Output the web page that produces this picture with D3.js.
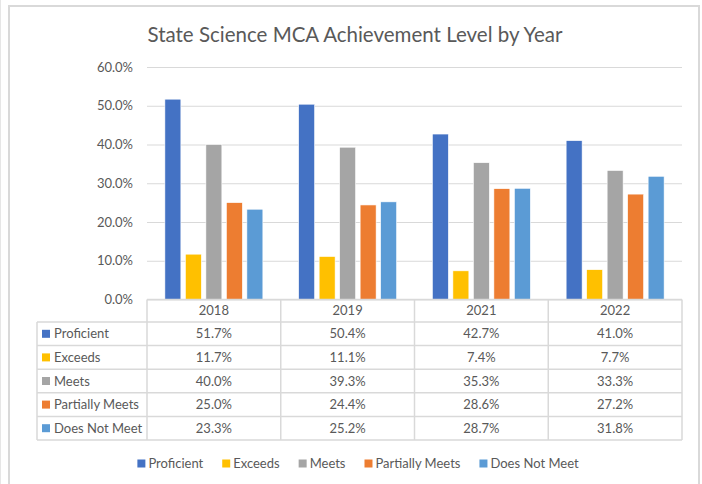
<!DOCTYPE html>
<html>
<head>
<meta charset="utf-8">
<title>State Science MCA Achievement Level by Year</title>
<script src="https://cdn.jsdelivr.net/npm/d3@7"></script>
<style>
body { margin: 0; background: #fff; }
svg text { font-family: Lato, "Open Sans", sans-serif; fill: #595959; }
</style>
</head>
<body>
<svg id="chart" width="702" height="484"></svg>
<script>
var years = ["2018", "2019", "2021", "2022"];
var levels = ["Proficient", "Exceeds", "Meets", "Partially Meets", "Does Not Meet"];
var colors = ["#4472C4", "#FFC000", "#A5A5A5", "#ED7D31", "#5B9BD5"];
// one array per level, values in percent, by year
var proficient = [51.7, 50.4, 42.7, 41.0];
var exceeds = [11.7, 11.1, 7.4, 7.7];
var meets = [40.0, 39.3, 35.3, 33.3];
var partiallyMeets = [25.0, 24.4, 28.6, 27.2];
var doesNotMeet = [23.3, 25.2, 28.7, 31.8];
var yTicks = [0, 10, 20, 30, 40, 50, 60];

var series = [proficient, exceeds, meets, partiallyMeets, doesNotMeet];

var svg = d3.select("#chart");
var grid = "#D9D9D9";

/* outer chart frame */
svg.append("line").attr("x1", 0.5).attr("x2", 0.5).attr("y1", 0).attr("y2", 484)
  .attr("stroke", "#E6E6E6").attr("stroke-width", 1);
svg.append("path").attr("d", "M9,484V6H699V484")
  .attr("fill", "none").attr("stroke", grid).attr("stroke-width", 2);

svg.append("text").attr("x", 355).attr("y", 42).attr("text-anchor", "middle")
  .style("font-size", "20.5px").text("State Science MCA Achievement Level by Year");

var plotLeft = 147, plotRight = 682, plotTop = 67, plotBottom = 299.5;
var x0 = d3.scaleBand().domain(years).range([plotLeft, plotRight]);
var x1 = d3.scaleBand().domain(levels).range([-51.25, 51.25]).paddingInner(0.22).paddingOuter(0.11);
var y = d3.scaleLinear().domain([0, 60]).range([plotBottom, plotTop]);

var yAxis = svg.append("g").attr("transform", "translate(" + plotLeft + ",0)")
  .call(d3.axisLeft(y).tickValues(yTicks).tickSize(-(plotRight - plotLeft)).tickPadding(14)
    .tickFormat(function(d) { return d.toFixed(1) + "%"; }));
yAxis.select(".domain").remove();
yAxis.selectAll("line").attr("stroke", grid).attr("stroke-width", 1.2);
yAxis.selectAll("text").style("font-size", "13px").attr("fill", "#595959").style("font-family", null);

/* bars */
var groups = svg.append("g").selectAll("g").data(years).join("g")
  .attr("transform", function(d) { return "translate(" + (x0(d) + x0.bandwidth() / 2) + ",0)"; });
groups.selectAll("rect")
  .data(function(d, i) { return levels.map(function(l, j) { return {level: l, value: series[j][i], color: colors[j]}; }); })
  .join("rect")
  .attr("x", function(d) { return x1(d.level); })
  .attr("width", x1.bandwidth())
  .attr("y", function(d) { return y(d.value); })
  .attr("height", function(d) { return plotBottom - y(d.value); })
  .attr("fill", function(d) { return d.color; })
  .attr("stroke", "#fff").attr("stroke-width", 0.6);

/* data table */
var headerH = 22.5, rowH = 23.6, labelLeft = 37;
var rowY = function(i) { return plotBottom + headerH + i * rowH; };
var tbl = svg.append("g").attr("stroke", grid).attr("stroke-width", 1.5);
tbl.append("line").attr("x1", plotLeft).attr("x2", plotRight).attr("y1", plotBottom).attr("y2", plotBottom);
d3.range(levels.length + 1).forEach(function(i) {
  tbl.append("line").attr("x1", labelLeft).attr("x2", plotRight).attr("y1", rowY(i)).attr("y2", rowY(i));
});
tbl.append("line").attr("x1", labelLeft).attr("x2", labelLeft).attr("y1", rowY(0)).attr("y2", rowY(levels.length));
years.concat([null]).forEach(function(yr) {
  var xx = yr ? x0(yr) : plotRight;
  tbl.append("line").attr("x1", xx).attr("x2", xx).attr("y1", plotBottom).attr("y2", rowY(levels.length));
});

svg.append("g").selectAll("text").data(years).join("text")
  .attr("x", function(d) { return x0(d) + x0.bandwidth() / 2; })
  .attr("y", plotBottom + headerH / 2 + 4.5).attr("text-anchor", "middle")
  .style("font-size", "13px").text(function(d) { return d; });

levels.forEach(function(l, j) {
  var cy = rowY(j) + rowH / 2;
  svg.append("rect").attr("x", 42).attr("y", cy - 4).attr("width", 8).attr("height", 8).attr("fill", colors[j]);
  svg.append("text").attr("x", 54).attr("y", cy + 4.5).style("font-size", "13px").text(l);
  svg.append("g").selectAll("text").data(series[j]).join("text")
    .attr("x", function(d, i) { return x0(years[i]) + x0.bandwidth() / 2; })
    .attr("y", cy + 4.5).attr("text-anchor", "middle")
    .style("font-size", "13px").text(function(d) { return d.toFixed(1) + "%"; });
});

/* bottom legend */
var legend = svg.append("g");
var items = legend.selectAll("g").data(levels).join("g");
items.append("rect").attr("y", 459.5).attr("width", 8).attr("height", 8)
  .attr("fill", function(d, i) { return colors[i]; });
items.append("text").attr("x", 11).attr("y", 468).style("font-size", "13px").text(function(d) { return d; });
var widths = [];
items.each(function() { widths.push(11 + d3.select(this).select("text").node().getComputedTextLength()); });
var total = d3.sum(widths) + 19 * (widths.length - 1);
var pos = 358 - total / 2;
items.attr("transform", function(d, i) {
  var p = pos; pos += widths[i] + 19; return "translate(" + p + ",0)";
});
</script>
</body>
</html>
